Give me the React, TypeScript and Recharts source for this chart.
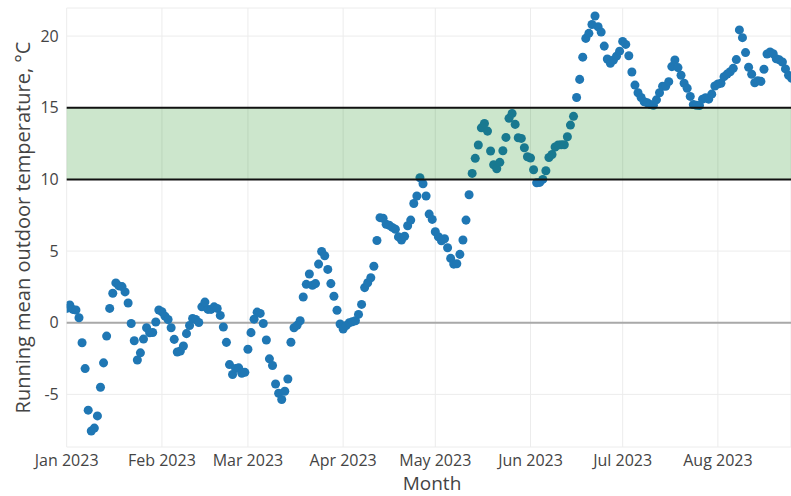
import React from 'react';
import {
  ScatterChart,
  Scatter,
  XAxis,
  YAxis,
  ZAxis,
  CartesianGrid,
  ReferenceArea,
  ReferenceLine,
  Label,
} from 'recharts';

// running mean outdoor temperature, one value per day from 1 Jan 2023
const janTemps = [
  1.0, 1.24, 0.93, 0.89, 0.35, -1.4, -3.2, -6.1, -7.55, -7.35, -6.5, -4.5, -2.8, -0.93, 1.0, 2.06,
  2.78, 2.57, 2.52, 2.15, 1.38, -0.05, -1.26, -2.6, -2.1, -1.14, -0.35, -0.7, -0.68, 0.05, 0.89,
];
const febTemps = [
  0.77, 0.46, 0.23, -0.35, -1.16, -2.04, -1.97, -1.62, -0.76, -0.19, 0.3, 0.23, 0.02, 1.11, 1.44,
  0.93, 0.93, 1.11, 1.0, 0.51, -0.3, -1.37, -2.92, -3.61, -3.19, -3.15, -3.52, -3.46,
];
const marTemps = [
  -1.85, -0.69, 0.25, 0.74, 0.65, -0.05, -1.2, -2.52, -2.98, -4.27, -4.92, -5.36, -4.78, -3.93,
  -1.36, -0.35, -0.18, 0.14, 1.8, 2.68, 3.4, 2.61, 2.73, 4.09, 4.97, 4.67, 3.72, 2.73, 1.85, 0.87,
  -0.09,
];
const aprTemps = [
  -0.44, -0.2, 0.0, 0.07, 0.14, 0.58, 1.28, 2.45, 2.79, 3.14, 3.94, 5.74, 7.33, 7.29, 6.87, 6.8,
  6.65, 6.52, 5.99, 5.77, 6.03, 6.77, 7.16, 8.32, 8.84, 10.12, 9.7, 8.84, 7.58, 7.21,
];
const mayTemps = [
  6.35, 6.0, 5.72, 5.86, 5.23, 4.49, 4.09, 4.12, 4.77, 5.77, 7.16, 8.93, 10.42, 11.47, 12.4, 13.6,
  13.9, 13.37, 11.98, 11.02, 10.74, 11.19, 12.0, 12.93, 14.26, 14.6, 13.84, 12.91, 12.86, 12.21,
  11.58,
];
const junTemps = [
  11.49, 10.67, 9.77, 9.79, 10.0, 10.6, 11.53, 11.74, 12.26, 12.4, 12.42, 12.42, 12.98, 13.79, 14.4,
  15.72, 16.98, 18.53, 19.84, 20.19, 20.81, 21.4, 20.65, 20.28, 19.3, 18.4, 18.1, 18.33, 18.6, 18.95,
];
const julTemps = [
  19.63, 19.42, 18.63, 17.49, 16.58, 16.05, 15.72, 15.42, 15.35, 15.22, 15.17, 15.55, 16.05, 16.5,
  16.5, 16.82, 17.87, 18.33, 17.8, 17.27, 16.71, 16.36, 15.79, 15.22, 15.17, 15.16, 15.6, 15.7,
  15.6, 15.95, 16.52,
];
const augTemps = [
  16.66, 16.71, 17.17, 17.35, 17.51, 17.75, 18.36, 20.43, 19.89, 18.85, 17.83, 17.34, 16.74, 16.88,
  16.84, 17.69, 18.75, 18.89, 18.77, 18.42, 18.34, 18.19, 17.71, 17.27, 17.05,
];

const monthStarts = [0, 31, 59, 90, 120, 151, 181, 212];
const monthLabels = ['Jan 2023', 'Feb 2023', 'Mar 2023', 'Apr 2023', 'May 2023', 'Jun 2023', 'Jul 2023', 'Aug 2023'];
const yTicks = [-5, 0, 5, 10, 15, 20];
const comfortBand = [10, 15];

const allTemps = [
  ...janTemps, ...febTemps, ...marTemps, ...aprTemps,
  ...mayTemps, ...junTemps, ...julTemps, ...augTemps,
];
const data = allTemps.map((temp, day) => ({ day, temp }));

const TEXT = '#444';
const FONT = '"Open Sans", sans-serif';

const monthLabel = (v: number) => {
  const i = monthStarts.indexOf(v);
  return i >= 0 ? monthLabels[i] : '';
};

const YTitle = (props: any) => {
  const vb = props.viewBox || {};
  const cy = (vb.y ?? 8) + (vb.height ?? 439) / 2;
  return (
    <text
      x={22}
      y={cy}
      transform={`rotate(-90, 22, ${cy})`}
      textAnchor="middle"
      dominantBaseline="central"
      fill={TEXT}
      fontSize={20}
      fontFamily={FONT}
    >
      Running mean outdoor temperature, °C
    </text>
  );
};

const XTitle = () => (
  <text x={432} y={483} textAnchor="middle" dominantBaseline="central" fill={TEXT} fontSize={19} fontFamily={FONT}>
    Month
  </text>
);

export default function App() {
  return (
    <div style={{ position: 'absolute', left: 0, top: 0, width: 791, height: 496, background: '#fff' }}>
      <ScatterChart width={791} height={496} margin={{ top: 8, right: 0, bottom: 0, left: 0 }}>
        <CartesianGrid stroke="#ececec" strokeWidth={1} />
        <XAxis
          type="number"
          dataKey="day"
          domain={[0, 235.8]}
          allowDataOverflow
          ticks={monthStarts}
          tickFormatter={monthLabel}
          interval={0}
          axisLine={false}
          tickLine={false}
          height={49}
          tick={{ fill: TEXT, fontSize: 16, fontFamily: FONT }}
        >
          <Label content={<XTitle />} />
        </XAxis>
        <YAxis
          type="number"
          dataKey="temp"
          domain={[-8.67, 21.96]}
          allowDataOverflow
          ticks={yTicks}
          axisLine={false}
          tickLine={false}
          width={66.7}
          tick={{ fill: TEXT, fontSize: 16, fontFamily: FONT }}
        >
          <Label content={<YTitle />} />
        </YAxis>
        <ZAxis range={[30, 30]} />
        <ReferenceLine y={0} stroke="#a9a9a9" strokeWidth={2} />
        <Scatter data={data} fill="#1f77b4" isAnimationActive={false} />
        <ReferenceArea
          y1={comfortBand[0]}
          y2={comfortBand[1]}
          fill="green"
          fillOpacity={0.2}
          stroke="none"
          zIndex={700}
        />
        <ReferenceLine y={comfortBand[0]} stroke="#111" strokeWidth={2} zIndex={710} />
        <ReferenceLine y={comfortBand[1]} stroke="#111" strokeWidth={2} zIndex={710} />
      </ScatterChart>
    </div>
  );
}
